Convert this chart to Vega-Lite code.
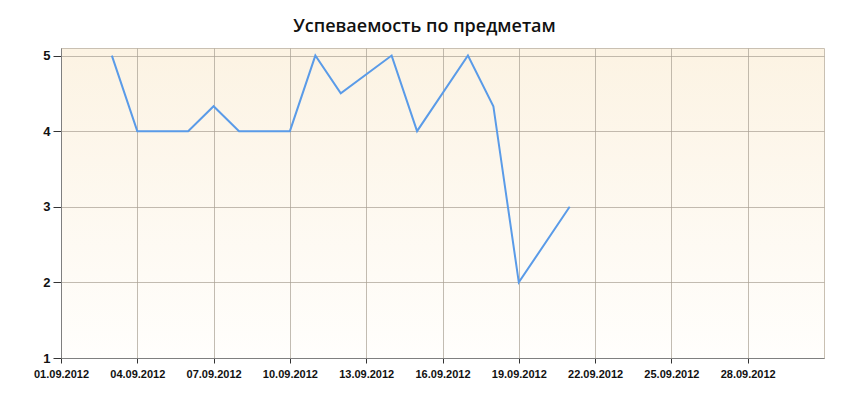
{
  "$schema": "https://vega.github.io/schema/vega-lite/v6.json",
  "width": 763,
  "height": 310,
  "autosize": {"type": "none"},
  "padding": {"left": 61, "top": 48, "right": 26, "bottom": 42},
  "background": "#ffffff",
  "title": {
    "text": "Успеваемость по предметам",
    "font": "Open Sans",
    "fontSize": 18,
    "fontWeight": 600,
    "color": "#111111",
    "anchor": "middle",
    "frame": "group",
    "dx": -18,
    "offset": 12
  },
  "config": {
    "view": {
      "stroke": "#c9c0b2",
      "strokeWidth": 1,
      "fill": {
        "gradient": "linear",
        "x1": 0, "y1": 0, "x2": 0, "y2": 1,
        "stops": [
          {"offset": 0, "color": "#fcf3e3"},
          {"offset": 1, "color": "#fffefc"}
        ]
      }
    },
    "axis": {
      "domainColor": "#7f7f7f",
      "tickColor": "#333333",
      "gridColor": "#a89f93",
      "gridOpacity": 0.7,
      "gridWidth": 1,
      "labelColor": "#111111",
      "labelFont": "Liberation Sans",
      "labelFontWeight": "bold"
    }
  },
  "data": {
    "values": [
      {"date": "2012-09-03", "score": 5},
      {"date": "2012-09-04", "score": 4},
      {"date": "2012-09-06", "score": 4},
      {"date": "2012-09-07", "score": 4.33},
      {"date": "2012-09-08", "score": 4},
      {"date": "2012-09-10", "score": 4},
      {"date": "2012-09-11", "score": 5},
      {"date": "2012-09-12", "score": 4.5},
      {"date": "2012-09-14", "score": 5},
      {"date": "2012-09-15", "score": 4},
      {"date": "2012-09-17", "score": 5},
      {"date": "2012-09-18", "score": 4.33},
      {"date": "2012-09-19", "score": 2},
      {"date": "2012-09-21", "score": 3}
    ]
  },
  "mark": {"type": "line", "color": "#5a9be8", "strokeWidth": 2, "clip": true},
  "encoding": {
    "x": {
      "field": "date",
      "type": "temporal",
      "scale": {
        "type": "utc",
        "domain": [
          {"year": 2012, "month": 9, "date": 1, "utc": true},
          {"year": 2012, "month": 10, "date": 1, "utc": true}
        ],
        "nice": false
      },
      "axis": {
        "title": null,
        "labelExpr": "utcFormat(datum.value, '%d.%m.%Y')",
        "labelFontSize": 11,
        "labelPadding": 5,
        "labelOverlap": false,
        "labelFlush": false,
        "tickSize": 5,
        "values": [
          {"year": 2012, "month": 9, "date": 1, "utc": true},
          {"year": 2012, "month": 9, "date": 4, "utc": true},
          {"year": 2012, "month": 9, "date": 7, "utc": true},
          {"year": 2012, "month": 9, "date": 10, "utc": true},
          {"year": 2012, "month": 9, "date": 13, "utc": true},
          {"year": 2012, "month": 9, "date": 16, "utc": true},
          {"year": 2012, "month": 9, "date": 19, "utc": true},
          {"year": 2012, "month": 9, "date": 22, "utc": true},
          {"year": 2012, "month": 9, "date": 25, "utc": true},
          {"year": 2012, "month": 9, "date": 28, "utc": true}
        ]
      }
    },
    "y": {
      "field": "score",
      "type": "quantitative",
      "scale": {"domain": [1, 5.1], "nice": false, "zero": false},
      "axis": {
        "title": null,
        "values": [1, 2, 3, 4, 5],
        "labelFontSize": 13,
        "labelPadding": 3,
        "tickSize": 8
      }
    }
  }
}
